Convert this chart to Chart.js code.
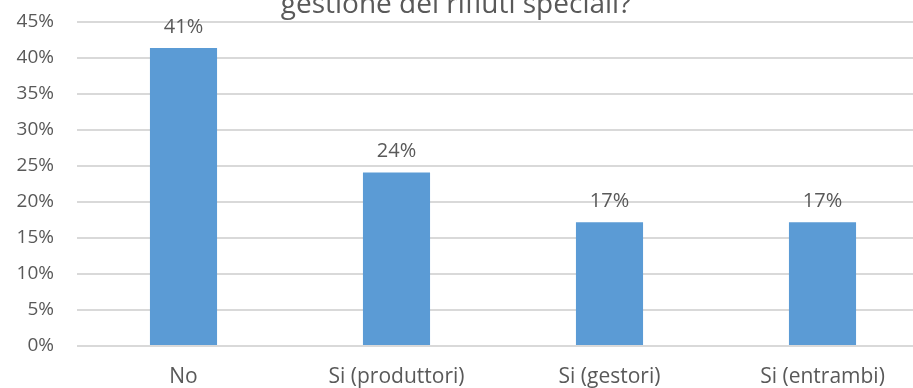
<!DOCTYPE html>
<html lang="it">
<head>
<meta charset="utf-8">
<title>Gestione dei rifiuti speciali</title>
<script src="https://cdn.jsdelivr.net/npm/chart.js@4.4.1/dist/chart.umd.min.js"></script>
<style>
    html, body { margin: 0; padding: 0; background: #ffffff; overflow: hidden; }
    #wrap { position: relative; width: 913px; height: 388px; overflow: hidden; }
    #wrap canvas { position: absolute; left: 0; top: 0; }
</style>
</head>
<body>
<div id="wrap">
    <canvas id="rifiutiChart" width="945" height="388"></canvas>
</div>
<script>
// Risposte (quota sul totale, in %)
const categorie = ['No', 'Si (produttori)', 'Si (gestori)', 'Si (entrambi)'];
const percentuali = [41.4, 24.1, 17.2, 17.2];
const titolo = 'gestione dei rifiuti speciali?';

const coloreTesto = '#595959';
const font = 'Open Sans';

// Etichette con il valore sopra ogni barra
const etichetteValori = {
    id: 'etichetteValori',
    afterDatasetsDraw(chart) {
        const ctx = chart.ctx;
        const meta = chart.getDatasetMeta(0);
        ctx.save();
        ctx.fillStyle = coloreTesto;
        ctx.font = `20px "${font}"`;
        ctx.textAlign = 'center';
        ctx.textBaseline = 'alphabetic';
        meta.data.forEach((bar, i) => {
            const v = chart.data.datasets[0].data[i];
            ctx.fillText(Math.round(v) + '%', bar.x, bar.y - 15);
        });
        ctx.restore();
    }
};

// Titolo in alto (la prima riga resta fuori dal riquadro)
const titoloGrafico = {
    id: 'titoloGrafico',
    afterDraw(chart) {
        const ctx = chart.ctx;
        ctx.save();
        ctx.fillStyle = coloreTesto;
        ctx.font = `28px "${font}"`;
        ctx.textAlign = 'center';
        ctx.textBaseline = 'alphabetic';
        ctx.fillText(titolo, 456, 13);
        ctx.restore();
    }
};

new Chart(document.getElementById('rifiutiChart'), {
    type: 'bar',
    data: {
        labels: categorie,
        datasets: [{
            data: percentuali,
            backgroundColor: '#5B9BD5',
            borderWidth: 0,
            categoryPercentage: 1,
            barPercentage: 0.315
        }]
    },
    options: {
        responsive: false,
        animation: false,
        layout: { padding: { top: 22, left: 14, right: 16, bottom: 0 } },
        plugins: {
            legend: { display: false },
            tooltip: { enabled: false }
        },
        scales: {
            x: {
                grid: { display: false, drawTicks: false },
                border: { display: false },
                ticks: {
                    color: coloreTesto,
                    padding: 18,
                    font: { family: font, size: 21 }
                },
                // altezza fissa dell'asse, senza margini extra ai lati
                afterFit(s) {
                    s.height = 42;
                    s.paddingLeft = 0;
                    s.paddingRight = 0;
                }
            },
            y: {
                min: 0,
                max: 45,
                border: { display: false },
                grid: { color: '#D9D9D9', lineWidth: 2, drawTicks: false },
                ticks: {
                    stepSize: 5,
                    color: coloreTesto,
                    padding: 23,
                    font: { family: font, size: 19 },
                    callback: v => v + '%'
                },
                afterFit(s) {
                    s.width = 63;
                    s.paddingTop = 0;
                    s.paddingBottom = 0;
                }
            }
        }
    },
    plugins: [etichetteValori, titoloGrafico]
});
</script>
</body>
</html>
